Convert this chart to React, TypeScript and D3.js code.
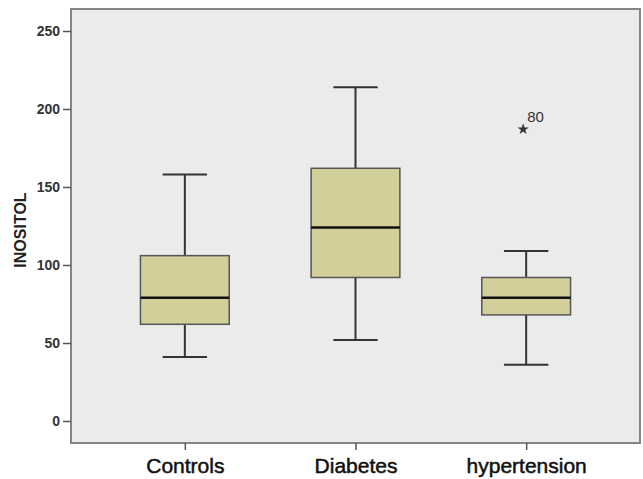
import React, { useEffect, useRef } from "react";
import * as d3 from "d3";

const categories = ["Controls", "Diabetes", "hypertension"];
const whiskerLow = [41, 52, 36];
const q1 = [62, 92, 68];
const median = [79, 124, 79];
const q3 = [106, 162, 92];
const whiskerHigh = [158, 214, 109];
const outlierGroup = ["hypertension"];
const outlierValue = [187];
const outlierLabel = ["80"];
const yTicks = [0, 50, 100, 150, 200, 250];

const App = () => {
  const ref = useRef<SVGSVGElement | null>(null);

  useEffect(() => {
    const left = 71;
    const right = 640;
    const top = 9;
    const bottom = 443;

    const svg = d3.select(ref.current);
    svg.selectAll("*").remove();

    const x = d3.scalePoint().domain(categories).range([left, right]).padding(0.667);
    const y = d3.scaleLinear().domain([-14.1, 264.1]).range([bottom, top]);
    const boxW = x.step() * 0.52;
    const capW = boxW / 2;

    // plot background + frame
    svg
      .append("rect")
      .attr("x", left)
      .attr("y", top)
      .attr("width", right - left)
      .attr("height", bottom - top)
      .attr("fill", "#ebebeb")
      .attr("stroke", "#858585")
      .attr("stroke-width", 2);

    // y axis
    const yAxis = (g) =>
      g
        .attr("transform", `translate(${left}, 0)`)
        .call(d3.axisLeft(y).tickValues(yTicks).tickSize(8).tickPadding(3))
        .call((g) => g.select(".domain").remove())
        .call((g) => g.selectAll(".tick line").attr("stroke", "#555").attr("stroke-width", 1.5))
        .call((g) =>
          g
            .selectAll(".tick text")
            .attr("font-family", "Liberation Sans, Arial, sans-serif")
            .attr("font-size", 14)
            .attr("font-weight", "bold")
            .attr("fill", "#333")
        );
    svg.append("g").call(yAxis);

    // x axis
    const xAxis = (g) =>
      g
        .attr("transform", `translate(0, ${bottom})`)
        .call(d3.axisBottom(x).tickSize(7).tickPadding(8))
        .call((g) => g.select(".domain").remove())
        .call((g) => g.selectAll(".tick line").attr("stroke", "#555").attr("stroke-width", 1.5))
        .call((g) =>
          g
            .selectAll(".tick text")
            .attr("font-family", "Liberation Sans, Arial, sans-serif")
            .attr("font-size", 21)
            .attr("fill", "#111")
            .attr("stroke", "#111")
            .attr("stroke-width", 0.5)
        );
    svg.append("g").call(xAxis);

    svg
      .append("text")
      .attr("transform", `translate(26, ${(top + bottom) / 2 + 4}) rotate(-90)`)
      .attr("text-anchor", "middle")
      .attr("font-family", "Liberation Sans, Arial, sans-serif")
      .attr("font-size", 16)
      .attr("font-weight", "bold")
      .attr("fill", "#222")
      .text("INOSITOL");

    const g = svg
      .append("g")
      .selectAll("g")
      .data(categories)
      .join("g")
      .attr("transform", (d) => `translate(${x(d)}, 0)`);

    // whiskers
    g.append("line")
      .attr("y1", (d, i) => y(whiskerLow[i]))
      .attr("y2", (d, i) => y(whiskerHigh[i]))
      .attr("stroke", "#333")
      .attr("stroke-width", 2);
    g.append("line")
      .attr("x1", -capW / 2)
      .attr("x2", capW / 2)
      .attr("y1", (d, i) => y(whiskerHigh[i]))
      .attr("y2", (d, i) => y(whiskerHigh[i]))
      .attr("stroke", "#333")
      .attr("stroke-width", 2);
    g.append("line")
      .attr("x1", -capW / 2)
      .attr("x2", capW / 2)
      .attr("y1", (d, i) => y(whiskerLow[i]))
      .attr("y2", (d, i) => y(whiskerLow[i]))
      .attr("stroke", "#333")
      .attr("stroke-width", 2);

    // boxes
    g.append("rect")
      .attr("x", -boxW / 2)
      .attr("width", boxW)
      .attr("y", (d, i) => y(q3[i]))
      .attr("height", (d, i) => y(q1[i]) - y(q3[i]))
      .attr("fill", "#d3cf9b")
      .attr("stroke", "#555")
      .attr("stroke-width", 1.5);

    g.append("line")
      .attr("x1", -boxW / 2)
      .attr("x2", boxW / 2)
      .attr("y1", (d, i) => y(median[i]))
      .attr("y2", (d, i) => y(median[i]))
      .attr("stroke", "#111")
      .attr("stroke-width", 2.5);

    // outliers
    const star = d3.symbol().type(d3.symbolStar).size(40);
    outlierGroup.forEach((grp, i) => {
      const cx = x(grp) - 3;
      const cy = y(outlierValue[i]);
      svg
        .append("path")
        .attr("d", star())
        .attr("transform", `translate(${cx}, ${cy})`)
        .attr("fill", "#333");
      svg
        .append("text")
        .attr("x", cx + 4)
        .attr("y", cy - 7)
        .attr("font-family", "Liberation Sans, Arial, sans-serif")
        .attr("font-size", 15)
        .attr("fill", "#333")
        .text(outlierLabel[i]);
    });
  }, []);

  return (
    <svg
      ref={ref}
      width={643}
      height={479}
      viewBox="0 0 643 479"
      style={{ position: "absolute", left: 0, top: 0, background: "#fff" }}
    />
  );
};

export default App;
